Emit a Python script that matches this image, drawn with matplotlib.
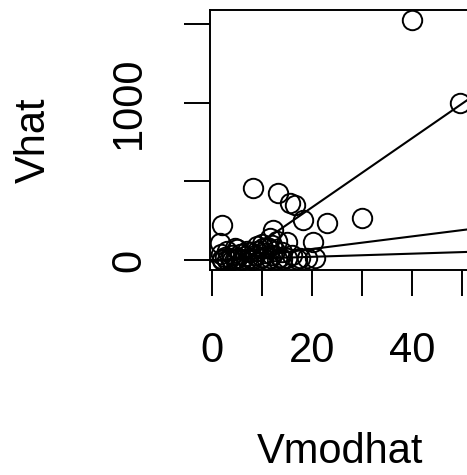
import matplotlib
matplotlib.use("Agg")
import matplotlib.pyplot as plt
import numpy as np

plt.rcParams['font.family'] = ['Liberation Sans', 'DejaVu Sans']

# data
vmodhat = [40.0, 49.6, 8.2, 13.2, 15.6, 16.6, 18.2, 23.0, 30.0, 2.0, 12.2, 15.0, 20.2,
           1.6, 4.6, 10.2, 19.0, 20.6, 17.6, 11.6,
           2.0, 2.5, 3.0, 3.5, 4.0, 4.5, 5.0, 5.5, 6.0, 6.5, 7.0, 7.5, 8.0, 8.5, 9.0,
           9.5, 10.0, 10.5, 11.0, 11.5, 12.0, 12.5, 13.0, 13.5, 14.0, 15.0, 16.0, 17.0,
           1.8, 3.0, 5.0, 7.0, 9.0, 10.0, 12.0, 13.0, 14.0, 11.0, 8.0, 6.0, 4.0, 2.0]
vhat = [1529, 1000, 459, 427, 363, 350, 255, 236, 268, 223, 191, 115, 115,
        108, 76, 76, 13, 13, 13, 140,
        5, 20, 2, 10, 30, 5, 15, 40, 8, 25, 3, 50, 12, 30, 60,
        5, 20, 45, 80, 10, 30, 60, 5, 20, 50, 10, 30, 5,
        40, 60, 70, 55, 90, 100, 95, 120, 5, 2, 0, 0, 0, 0]

# fitted lines: (intercept, slope)
line_intercepts = [-105, -10, 0]
line_slopes = [22.0, 4.0, 1.0]

x_ticks = [0, 10, 20, 30, 40, 50]
x_ticklabels = ["0", "", "20", "", "40", ""]
y_ticks = [0, 500, 1000, 1500]
y_ticklabels = ["0", "", "1000", ""]

W, H = 467, 475
fig = plt.figure(figsize=(W / 100, H / 100), dpi=100)
left, right, top, bottom = 210, 472, 10, 270
ax = fig.add_axes([left / W, 1 - bottom / H, (right - left) / W, (bottom - top) / H])

ax.plot(vmodhat, vhat, 'o', mfc='none', mec='black', ms=14, mew=1.4, clip_on=True)
for a, b in zip(line_intercepts, line_slopes):
    ax.axline((0, a), slope=b, color='black', lw=1.5)

ax.set_xlim(-0.4, 52.0)
ax.set_ylim(-64, 1592)

ax.set_xticks(x_ticks)
ax.set_xticklabels(x_ticklabels)
ax.set_yticks(y_ticks)
ax.set_yticklabels(y_ticklabels, rotation=90, va='center')
ax.tick_params(length=18.4, width=1.4, labelsize=30, pad=25.5, direction='out')
for s in ax.spines.values():
    s.set_linewidth(1.4)

fig.text(33.5 / W, 1 - 140 / H, "Vhat", rotation=90, ha='center', va='center', fontsize=30)
fig.text(340 / W, 1 - 463 / H, "Vmodhat", ha='center', va='baseline', fontsize=30)

fig.savefig("out.png", dpi=100)
